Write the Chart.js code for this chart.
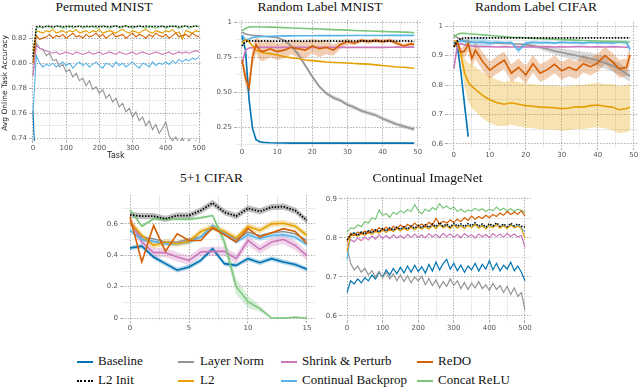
<!DOCTYPE html>
<html>
<head>
<meta charset="utf-8">
<title>Continual learning benchmarks</title>
<script src="https://cdn.jsdelivr.net/npm/chart.js@4.4.1/dist/chart.umd.min.js"></script>
<style>
  html, body { margin: 0; padding: 0; background: #fff; }
  #fig { position: relative; width: 640px; height: 387px; overflow: hidden; }
  #fig canvas { position: absolute; }
  .ttl { position: absolute; width: 200px; text-align: center; font-family: "Liberation Serif", "DejaVu Serif", serif; font-weight: 400; font-size: 13.5px; line-height: 14px; color: #111; white-space: nowrap; }
  .leg { position: absolute; font-family: "Liberation Serif", "DejaVu Serif", serif; font-weight: 400; font-size: 13px; line-height: 14px; color: #111; white-space: nowrap; }
  .sw { position: absolute; width: 16px; height: 0; }
</style>
</head>
<body>
<div id="fig"></div>
<script>
// ─── Data ──────────────────────────────────────────────

var TASKS_500 = [0,10,20,30,40,50,60,70,80,90,100,110,120,130,140,150,160,170,180,190,200,210,220,230,240,250,260,270,280,290,300,310,320,330,340,350,360,370,380,390,400,410,420,430,440,450,460,470,480,490,500];
var TASKS_50 = [0,1,2,3,4,5,6,8,10,12,14,16,18,20,22,24,26,28,30,32,34,36,38,40,42,44,46,48,49];
var TASKS_16 = [0,1,2,3,4,5,6,7,8,9,10,11,12,13,14,15];

// Permuted MNIST
var PM_BASE = [.762, .700];
var PM_L2INIT = [.805,.829,.8295,.829,.8292,.8296,.829,.8293,.8297,.829,
  .8294,.829,.8296,.8291,.8295,.829,.8297,.8292,.829,.8295,
  .8293,.829,.8296,.8291,.8294,.8297,.829,.8293,.8296,.829,
  .8294,.8291,.8297,.8292,.8295,.829,.8293,.8296,.8291,.8294,
  .829,.8296,.8292,.8295,.829,.8294,.8297,.8291,.8293,.8296,.8292];
var PM_LN = [.790,.816,.812,.811,.806,.808,.802,.803,.797,.799,
  .793,.795,.789,.792,.786,.788,.782,.786,.779,.781,
  .776,.779,.772,.775,.769,.772,.765,.768,.761,.764,
  .757,.761,.754,.757,.750,.754,.747,.751,.744,.748,
  .753,.742,.738,.741,.736,.740,.735,.739,.734,.738,.733];
var PM_L2 = [.810,.826,.825,.824,.826,.825,.827,.824,.825,.826,
  .824,.826,.825,.827,.824,.825,.826,.824,.826,.825,
  .827,.824,.825,.826,.825,.824,.826,.827,.825,.824,
  .826,.825,.824,.826,.827,.825,.824,.826,.825,.824,
  .826,.825,.827,.824,.825,.819,.826,.825,.824,.826,.825];
var PM_SP = [.790,.814,.812,.811,.810,.809,.808,.809,.807,.808,
  .809,.808,.807,.809,.808,.807,.808,.809,.807,.808,
  .809,.807,.808,.809,.808,.807,.809,.808,.807,.808,
  .809,.807,.808,.809,.808,.807,.808,.809,.808,.807,
  .808,.809,.807,.808,.809,.808,.809,.808,.809,.810,.809];
var PM_CBP = [.760,.806,.800,.797,.799,.798,.800,.797,.799,.801,
  .798,.800,.796,.799,.801,.798,.800,.797,.799,.801,
  .798,.796,.800,.799,.797,.801,.798,.800,.797,.799,
  .801,.798,.796,.800,.799,.797,.801,.798,.800,.799,
  .801,.799,.802,.800,.803,.801,.803,.802,.804,.803,.805];
var PM_REDO = [.800,.822,.819,.820,.821,.823,.820,.822,.821,.823,
  .820,.822,.824,.821,.822,.820,.823,.821,.822,.824,
  .821,.823,.820,.822,.824,.821,.822,.823,.820,.822,
  .824,.821,.823,.822,.820,.823,.821,.824,.822,.821,
  .823,.820,.822,.824,.821,.822,.823,.821,.824,.822,.821];
var PM_CRELU = [.800,.828,.829,.828,.830,.829,.828,.830,.829,.828,
  .829,.830,.828,.829,.830,.828,.829,.829,.830,.828,
  .829,.830,.829,.828,.829,.830,.828,.829,.830,.829,
  .828,.829,.830,.829,.828,.830,.829,.828,.829,.830,
  .828,.829,.830,.829,.828,.829,.830,.828,.829,.830,.829];

// Random Label MNIST
var RM_BASE = [.90,.80,.45,.24,.16,.145,.14,.137,.136,.136,.135,.136,.135,.135,.136,.135,.135,.136,.135,.135,.135,.136,.135,.135,.135,.136,.135,.135,.135];
var RM_L2INIT = [.83,.86,.867,.866,.865,.865,.866,.865,.864,.865,.866,.865,.865,.864,.865,.866,.865,.865,.864,.865,.865,.866,.865,.864,.865,.865,.866,.865,.865];
var RM_LN = [.93,.915,.91,.907,.905,.903,.90,.895,.89,.87,.83,.77,.69,.61,.54,.49,.46,.44,.41,.39,.365,.35,.335,.31,.29,.27,.255,.24,.235];
var RM_LN_ERR = [0,0,0,0,0,0,0,0,.005,.008,.012,.015,.015,.015,.015,.015,.015,.015,.015,.015,.015,.015,.015,.015,.015,.015,.015,.015,.015];
var RM_L2 = [.85,.875,.86,.83,.80,.79,.78,.775,.765,.755,.745,.74,.73,.725,.72,.715,.712,.71,.708,.705,.702,.70,.695,.69,.685,.68,.678,.672,.67];
var RM_SP = [.70,.80,.815,.818,.82,.82,.82,.82,.821,.82,.82,.821,.82,.82,.821,.82,.82,.821,.82,.821,.82,.82,.821,.82,.821,.822,.821,.822,.822];
var RM_CBP = [.91,.875,.88,.89,.895,.897,.898,.90,.901,.902,.902,.903,.903,.903,.904,.904,.904,.904,.905,.905,.905,.905,.905,.905,.906,.906,.906,.906,.906];
var RM_REDO = [.73,.60,.53,.75,.84,.80,.79,.81,.79,.80,.82,.81,.80,.83,.81,.82,.80,.84,.86,.85,.87,.86,.87,.86,.87,.85,.83,.845,.84];
var RM_REDO_ERR = [.03,.06,.06,.07,.06,.07,.07,.06,.06,.06,.05,.06,.06,.05,.06,.05,.04,.03,.02,.015,.015,.015,.015,.015,.015,.015,.015,.015,.015];
var RM_CRELU = [.94,.955,.965,.967,.967,.966,.966,.965,.963,.961,.959,.957,.955,.953,.951,.949,.947,.945,.943,.941,.939,.937,.935,.934,.932,.931,.929,.927,.925];

// Random Label CIFAR
var RC_BASE = [.945,.93,.84,.73,.625];
var RC_L2INIT = [.93,.95,.958,.96,.96,.96,.96,.96,.96,.96,.96,.96,.96,.96,.96,.96,.96,.96,.96,.96,.96,.96,.96,.96,.96,.96,.96,.96,.96];
var RC_LN = [.97,.96,.955,.95,.948,.946,.945,.944,.943,.942,.941,.94,.939,.937,.933,.928,.922,.915,.91,.905,.90,.895,.89,.883,.875,.866,.855,.838,.83];
var RC_LN_ERR = [0,0,0,0,0,0,0,0,0,0,0,0,0,.005,.007,.008,.01,.012,.014,.015,.016,.018,.02,.02,.02,.02,.02,.02,.02];
var RC_L2 = [.95,.945,.90,.84,.81,.795,.785,.765,.75,.74,.735,.74,.735,.73,.728,.725,.724,.723,.72,.722,.726,.725,.73,.732,.728,.725,.716,.72,.725];
var RC_L2_ERR = [0,.005,.02,.05,.065,.075,.075,.078,.08,.078,.075,.075,.075,.075,.075,.075,.075,.075,.075,.075,.075,.075,.075,.075,.075,.078,.08,.08,.08];
var RC_SP = [.855,.935,.94,.936,.933,.932,.931,.930,.930,.929,.930,.929,.930,.929,.930,.929,.930,.929,.930,.929,.930,.930,.929,.930,.929,.930,.929,.928,.928];
var RC_CBP = [.94,.945,.95,.948,.946,.945,.944,.946,.942,.945,.943,.944,.918,.942,.945,.943,.944,.942,.945,.943,.944,.942,.945,.943,.944,.942,.946,.944,.92];
var RC_CBP_ERR = [.005,.005,.005,.008,.012,.015,.018,.015,.01,.005,.005,.005,.012,.005,.005,.005,.005,.005,.005,.005,.005,.005,.005,.005,.005,.005,.005,.008,.012];
var RC_REDO = [.93,.945,.91,.915,.94,.89,.918,.88,.85,.868,.884,.84,.86,.834,.872,.84,.852,.87,.848,.86,.85,.872,.862,.875,.90,.88,.855,.86,.902];
var RC_REDO_ERR = [.005,.01,.015,.02,.025,.03,.03,.03,.03,.03,.03,.03,.03,.03,.03,.03,.03,.03,.03,.03,.03,.03,.03,.03,.03,.03,.03,.03,.03];
var RC_CRELU = [.96,.972,.975,.975,.974,.973,.972,.970,.968,.966,.964,.962,.961,.960,.958,.957,.956,.955,.954,.953,.952,.951,.950,.949,.948,.948,.947,.946,.946];

// 5+1 CIFAR
var FC_BASE = [.447,.459,.389,.347,.305,.326,.368,.442,.347,.336,.379,.353,.379,.358,.341,.311];
var FC_L2INIT = [.658,.65,.65,.633,.654,.654,.686,.734,.675,.65,.70,.68,.707,.711,.686,.622];
var FC_LN = [.61,.516,.506,.485,.485,.502,.516,.57,.548,.502,.548,.527,.544,.552,.538,.495];
var FC_L2 = [.612,.527,.463,.485,.474,.489,.552,.58,.552,.51,.584,.559,.601,.605,.586,.527];
var FC_SP = [.622,.485,.417,.417,.389,.368,.421,.425,.425,.379,.495,.438,.485,.502,.463,.396];
var FC_CBP = [.559,.50,.489,.474,.474,.485,.516,.59,.538,.485,.531,.506,.527,.531,.516,.468];
var FC_REDO = [.643,.358,.59,.425,.538,.495,.495,.574,.531,.485,.57,.516,.544,.57,.552,.474];
var FC_CRELU = [.69,.586,.633,.63,.63,.63,.64,.654,.485,.2,.104,.06,0,0,.005,0];
var FC_CRELU_ERR = [.01,.01,.01,.01,.01,.01,.01,.01,.04,.05,.04,.02,.005,.005,.005,.005];

// Continual ImageNet
var CI_BASE = [.660,.690,.682,.695,.685,.698,.690,.705,.695,.712,
  .700,.718,.705,.722,.708,.725,.710,.728,.712,.730,
  .714,.726,.710,.732,.715,.738,.718,.734,.745,.720,
  .735,.716,.730,.712,.728,.718,.735,.715,.732,.720,
  .742,.718,.735,.715,.730,.720,.738,.716,.728,.712,.690];
var CI_L2INIT = [.795,.808,.812,.806,.815,.810,.818,.813,.821,.815,
  .824,.818,.826,.820,.828,.822,.829,.823,.831,.825,
  .832,.826,.834,.827,.836,.829,.840,.830,.836,.828,
  .838,.830,.836,.829,.837,.831,.839,.830,.836,.828,
  .837,.831,.839,.830,.836,.829,.838,.831,.836,.830,.828];
var CI_LN = [.775,.735,.718,.728,.712,.722,.705,.716,.700,.714,
  .698,.712,.695,.708,.690,.705,.688,.703,.685,.700,
  .690,.702,.680,.696,.678,.692,.672,.688,.676,.695,
  .678,.690,.670,.686,.668,.684,.672,.688,.670,.680,
  .665,.684,.668,.678,.660,.676,.655,.672,.650,.660,.615];
var CI_L2 = [.765,.805,.808,.804,.811,.807,.814,.809,.817,.812,
  .820,.814,.822,.816,.824,.818,.825,.819,.827,.821,
  .828,.822,.829,.823,.831,.824,.834,.826,.831,.824,
  .833,.825,.831,.824,.832,.826,.834,.825,.831,.823,
  .832,.826,.834,.825,.831,.824,.833,.826,.830,.824,.800];
var CI_SP = [.780,.796,.790,.800,.793,.802,.795,.805,.797,.808,
  .799,.806,.798,.808,.800,.806,.799,.809,.801,.810,
  .802,.808,.800,.811,.803,.809,.801,.812,.804,.810,
  .802,.809,.801,.811,.803,.808,.800,.810,.803,.809,
  .801,.811,.804,.810,.802,.812,.804,.810,.803,.806,.776];
var CI_CBP = [.745,.810,.814,.808,.816,.811,.819,.813,.822,.816,
  .824,.817,.826,.819,.827,.821,.828,.822,.829,.823,
  .830,.824,.832,.825,.833,.827,.836,.828,.833,.826,
  .835,.827,.833,.826,.834,.828,.836,.827,.833,.825,
  .834,.828,.836,.827,.833,.826,.835,.828,.832,.826,.815];
var CI_REDO = [.790,.812,.806,.815,.810,.818,.812,.822,.816,.826,
  .820,.828,.819,.830,.824,.833,.826,.835,.828,.838,
  .830,.836,.829,.840,.833,.850,.836,.843,.838,.846,
  .840,.848,.842,.852,.845,.856,.848,.855,.850,.858,
  .852,.860,.855,.864,.858,.868,.860,.866,.861,.870,.856];
var CI_CRELU = [.815,.826,.824,.833,.829,.842,.838,.852,.848,.872,
  .858,.862,.853,.866,.861,.870,.864,.873,.868,.886,
  .870,.862,.874,.868,.878,.872,.888,.876,.882,.874,
  .879,.868,.874,.866,.872,.869,.876,.870,.875,.868,
  .874,.870,.879,.871,.876,.869,.875,.868,.874,.871,.866];

// Tick values and labels ('' = minor grid only)
var PM_XT = [0,50,100,150,200,250,300,350,400,450,500];
var PM_XL = ['0','','100','','200','','300','','400','','500'];
var PM_YT = [.74,.75,.76,.77,.78,.79,.80,.81,.82,.83];
var PM_YL = ['0.74','','0.76','','0.78','','0.80','','0.82',''];
var RL_XT = [0,5,10,15,20,25,30,35,40,45,50];
var RL_XL = ['0','','10','','20','','30','','40','','50'];
var RM_YT = [.125,.25,.375,.5,.625,.75,.875,1];
var RM_YL = ['','0.25','','0.50','','0.75','','1'];
var RC_YT = [.6,.65,.7,.75,.8,.85,.9,.95,1];
var RC_YL = ['0.6','','0.7','','0.8','','0.9','','1'];
var FC_XT = [0,2.5,5,7.5,10,12.5,15];
var FC_XL = ['0','','5','','10','','15'];
var FC_YT = [0,.1,.2,.3,.4,.5,.6,.7];
var FC_YL = ['0','','0.2','','0.4','','0.6',''];
var CI_XT = [0,50,100,150,200,250,300,350,400,450,500];
var CI_XL = ['0','','100','','200','','300','','400','','500'];
var CI_YT = [.6,.65,.7,.75,.8,.85,.9];
var CI_YL = ['0.6','','0.7','','0.8','','0.9'];

// ─── Styles ────────────────────────────────────────────

var STYLE = {
  base:   { label: 'Baseline',           color: '#0173B2' },
  l2init: { label: 'L2 Init',            color: '#000000', dash: [1.5, 1.5] },
  ln:     { label: 'Layer Norm',         color: '#949494' },
  l2:     { label: 'L2',                 color: '#E69F00' },
  sp:     { label: 'Shrink & Perturb',   color: '#CC78BC' },
  cbp:    { label: 'Continual Backprop', color: '#56B4E9' },
  redo:   { label: 'ReDO',               color: '#D55E00' },
  crelu:  { label: 'Concat ReLU',        color: '#7BC67B' }
};
// first key is drawn on top
var DRAW_ORDER = ['l2init', 'redo', 'crelu', 'l2', 'cbp', 'sp', 'ln', 'base'];
var LEGEND_ORDER = ['base', 'l2init', 'ln', 'l2', 'sp', 'cbp', 'redo', 'crelu'];

Chart.defaults.font.family = 'DejaVu Sans';

var fig = document.getElementById('fig');

function rgba(hex, a) {
  var n = parseInt(hex.slice(1), 16);
  return 'rgba(' + (n >> 16) + ',' + ((n >> 8) & 255) + ',' + (n & 255) + ',' + a + ')';
}

function pts(xs, ys) {
  return ys.map(function (y, i) { return { x: xs[i], y: y }; });
}

function buildSets(xs, series, bands, lw) {
  var sets = [];
  DRAW_ORDER.forEach(function (k) {
    if (!series[k]) return;
    var s = STYLE[k];
    sets.push({
      label: s.label, data: pts(xs, series[k]),
      borderColor: s.color, borderWidth: k === 'l2init' ? lw + 0.2 : lw,
      borderDash: s.dash || [], pointRadius: 0, fill: false
    });
  });
  (bands || []).forEach(function (b) {
    var mid = series[b[0]], err = b[1];
    var hw = function (i) { return typeof err === 'number' ? err : err[i]; };
    sets.push({ data: pts(xs, mid.map(function (v, i) { return v + hw(i); })), borderWidth: 0, pointRadius: 0, fill: false });
    sets.push({ data: pts(xs, mid.map(function (v, i) { return v - hw(i); })), borderWidth: 0, pointRadius: 0,
      fill: '-1', backgroundColor: rgba(STYLE[b[0]].color, b[2] || 0.25) });
  });
  return sets;
}

function axis(dir, min, max, ticks, labels, size, tickPad, title) {
  return {
    type: 'linear', min: min, max: max,
    afterBuildTicks: function (s) { s.ticks = ticks.map(function (v) { return { value: v }; }); },
    afterFit: function (s) { if (dir === 'x') s.height = size; else s.width = size; },
    ticks: {
      autoSkip: false, maxRotation: 0, padding: tickPad, color: '#555',
      font: { family: 'DejaVu Sans', size: 7 },
      callback: function (v, i) { return labels[i]; }
    },
    grid: {
      lineWidth: 0.8, tickLength: 2, tickWidth: 0.8,
      color: function (c) { return labels[c.index] ? '#9a9a9a' : '#e4e4e4'; },
      tickColor: function (c) { return labels[c.index] ? '#9a9a9a' : 'rgba(0,0,0,0)'; }
    },
    border: {
      display: false,
      dash: function (c) { return labels[c.index] ? [1.5, 1.5] : []; }
    },
    title: title || { display: false }
  };
}

function makePanel(p) {
  var b = p.box, a = p.plot;
  var cv = document.createElement('canvas');
  cv.width = b[2]; cv.height = b[3];
  cv.style.left = b[0] + 'px'; cv.style.top = b[1] + 'px';
  fig.appendChild(cv);

  var t = document.createElement('div');
  t.className = 'ttl';
  t.textContent = p.title;
  t.style.left = (p.titleX - 100) + 'px';
  t.style.top = p.titleY + 'px';
  fig.appendChild(t);

  new Chart(cv, {
    type: 'line',
    data: { datasets: p.datasets },
    options: {
      responsive: false, animation: false, events: [],
      layout: { padding: { left: 0, bottom: 0, top: a[2] - b[1], right: b[0] + b[2] - a[1] } },
      plugins: { legend: { display: false }, tooltip: { enabled: false } },
      scales: {
        x: axis('x', p.x[0], p.x[1], p.x[2], p.x[3], b[1] + b[3] - a[3], 1, p.xTitle),
        y: axis('y', p.y[0], p.y[1], p.y[2], p.y[3], a[0] - b[0], 2, p.yTitle)
      }
    }
  });
}

// ─── Panels ────────────────────────────────────────────

makePanel({
  title: 'Permuted MNIST', titleX: 104, titleY: 0,
  box: [0, 18, 211, 144], plot: [31, 201, 25, 141],
  x: [-6, 506, PM_XT, PM_XL], y: [.7378, .8305, PM_YT, PM_YL],
  xTitle: { display: true, text: 'Task', color: '#222', font: { family: 'DejaVu Sans', size: 8 }, padding: { top: 0, bottom: 1.2 } },
  yTitle: { display: true, text: 'Avg Online Task Accuracy', color: '#222', font: { family: 'DejaVu Sans', size: 7.5 }, padding: { top: 0.5, bottom: 0 } },
  datasets: buildSets(TASKS_500, {
    base: PM_BASE, l2init: PM_L2INIT, ln: PM_LN, l2: PM_L2, sp: PM_SP, cbp: PM_CBP, redo: PM_REDO, crelu: PM_CRELU
  }, [], 1.1)
});

makePanel({
  title: 'Random Label MNIST', titleX: 320, titleY: 0,
  box: [212, 14, 218, 142], plot: [236, 422, 20, 144.5],
  x: [-1.7, 51.2, RL_XT, RL_XL], y: [.125, 1.0143, RM_YT, RM_YL],
  datasets: buildSets(TASKS_50, {
    base: RM_BASE, l2init: RM_L2INIT, ln: RM_LN, l2: RM_L2, sp: RM_SP, cbp: RM_CBP, redo: RM_REDO, crelu: RM_CRELU
  }, [['redo', RM_REDO_ERR, 0.3], ['ln', RM_LN_ERR, 0.35]], 1.6)
});

makePanel({
  title: 'Random Label CIFAR', titleX: 536, titleY: 0,
  box: [430, 14, 210, 150], plot: [447, 638, 22, 148],
  x: [-1.9, 51.2, RL_XT, RL_XL], y: [.5864, 1.0136, RC_YT, RC_YL],
  datasets: buildSets(TASKS_50, {
    base: RC_BASE, l2init: RC_L2INIT, ln: RC_LN, l2: RC_L2, sp: RC_SP, cbp: RC_CBP, redo: RC_REDO, crelu: RC_CRELU
  }, [['l2', RC_L2_ERR, 0.3], ['redo', RC_REDO_ERR, 0.3], ['ln', RC_LN_ERR, 0.35], ['cbp', RC_CBP_ERR, 0.35]], 1.6)
});

makePanel({
  title: '5+1 CIFAR', titleX: 211.5, titleY: 171,
  box: [95, 185, 230, 150], plot: [122, 315, 195, 321],
  x: [-0.68, 15.68, FC_XT, FC_XL], y: [-.019, .785, FC_YT, FC_YL],
  datasets: buildSets(TASKS_16, {
    base: FC_BASE, l2init: FC_L2INIT, ln: FC_LN, l2: FC_L2, sp: FC_SP, cbp: FC_CBP, redo: FC_REDO, crelu: FC_CRELU
  }, [['l2init', .02, 0.25], ['crelu', FC_CRELU_ERR, 0.3], ['sp', .03, 0.3], ['l2', .02, 0.3], ['cbp', .015, 0.3], ['base', .015, 0.3]], 1.6)
});

makePanel({
  title: 'Continual ImageNet', titleX: 427.5, titleY: 171,
  box: [315, 185, 225, 150], plot: [341, 531, 197, 321],
  x: [-17, 517, CI_XT, CI_XL], y: [.587, .905, CI_YT, CI_YL],
  datasets: buildSets(TASKS_500, {
    base: CI_BASE, l2init: CI_L2INIT, ln: CI_LN, l2: CI_L2, sp: CI_SP, cbp: CI_CBP, redo: CI_REDO, crelu: CI_CRELU
  }, [], 1.2)
});

// ─── Legend ────────────────────────────────────────────

var LEG_SW_X = [77, 178, 281, 417];
var LEG_TX_X = [98, 200, 302, 438];
var LEG_ROW_Y = [362, 381];

LEGEND_ORDER.forEach(function (k, i) {
  var col = i >> 1, row = i & 1;
  var s = STYLE[k];
  var sw = document.createElement('span');
  sw.className = 'sw';
  sw.style.left = LEG_SW_X[col] + 'px';
  sw.style.top = (LEG_ROW_Y[row] - 1) + 'px';
  sw.style.borderTop = k === 'l2init' ? '2px dotted #000' : '2.5px solid ' + s.color;
  fig.appendChild(sw);
  var tx = document.createElement('span');
  tx.className = 'leg';
  tx.textContent = s.label;
  tx.style.left = LEG_TX_X[col] + 'px';
  tx.style.top = (LEG_ROW_Y[row] - 8) + 'px';
  fig.appendChild(tx);
});
</script>
</body>
</html>
